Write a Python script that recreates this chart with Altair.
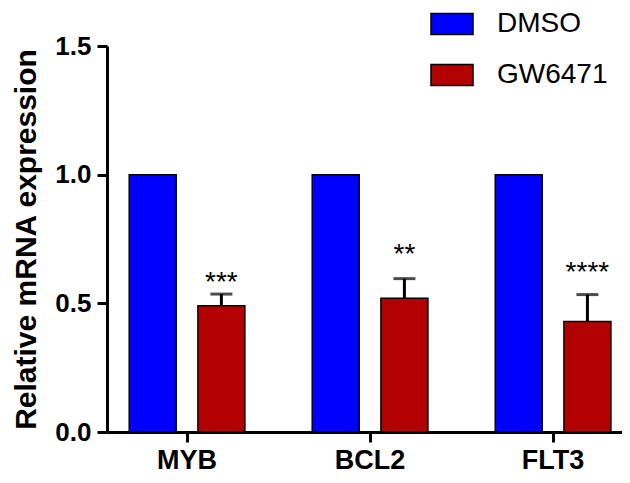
import altair as alt
import pandas as pd

genes = ["MYB", "BCL2", "FLT3"]
treatments = ["DMSO", "GW6471"]
dmso_values = [1.0, 1.0, 1.0]
gw_values = [0.491, 0.52, 0.429]
gw_errors = [0.045, 0.076, 0.105]
sig_labels = ["***", "**", "****"]
sig_y = [0.60, 0.707, 0.637]
colors = ["#0000FF", "#B30000"]

rows = []
for g, d in zip(genes, dmso_values):
    rows.append({"gene": g, "treatment": "DMSO", "value": d})
for g, v in zip(genes, gw_values):
    rows.append({"gene": g, "treatment": "GW6471", "value": v})
bars_df = pd.DataFrame(rows)

err_df = pd.DataFrame({
    "gene": genes,
    "treatment": ["GW6471"] * 3,
    "value": gw_values,
    "upper": [v + e for v, e in zip(gw_values, gw_errors)],
    "sig": sig_labels,
    "sig_y": sig_y,
})

common_axis = dict(
    labelFont="Liberation Sans",
    labelFontWeight="bold",
    labelColor="black",
    grid=False,
    domainColor="black",
    domainWidth=3,
    domainOpacity=1,
    tickColor="black",
    tickWidth=3,
    tickOpacity=1,
    tickSize=10,
)
x_axis = alt.Axis(title=None, labelAngle=0, labelFontSize=27, labelPadding=5, **common_axis)
y_axis = alt.Axis(
    title="Relative mRNA expression",
    titleFont="Liberation Sans",
    titleFontWeight="bold",
    titleFontSize=30,
    titleColor="black",
    titlePadding=13,
    values=[0, 0.5, 1.0, 1.5],
    format=".1f",
    labelFontSize=26,
    labelPadding=6,
    **common_axis,
)

x_scale = alt.Scale(paddingInner=0.368, paddingOuter=0.091, align=0.667)
y_scale = alt.Scale(domain=[0, 1.5], nice=False)


def xe():
    return alt.X("gene:N", sort=genes, scale=x_scale, axis=x_axis)


def xo():
    return alt.XOffset(
        "treatment:N", sort=treatments,
        scale=alt.Scale(paddingInner=0.316, paddingOuter=0),
    )


bars = alt.Chart(bars_df).mark_bar(stroke="black", strokeWidth=1.5).encode(
    x=xe(),
    xOffset=xo(),
    y=alt.Y("value:Q", scale=y_scale, axis=y_axis),
    color=alt.Color(
        "treatment:N",
        sort=treatments,
        scale=alt.Scale(domain=treatments, range=colors),
        legend=alt.Legend(
            title=None,
            orient="none",
            legendX=323,
            legendY=-44,
            symbolType="M-1,-0.5H1V0.5H-1Z",
            symbolSize=1764,
            symbolStrokeColor="black",
            symbolStrokeWidth=1.5,
            symbolOpacity=1,
            labelFont="Liberation Sans",
            labelFontSize=28,
            labelColor="black",
            labelOffset=23,
            rowPadding=15,
        ),
    ),
)

stems = alt.Chart(err_df).mark_rule(color="black", strokeWidth=3).encode(
    x=xe(),
    xOffset=xo(),
    y=alt.Y("value:Q", scale=y_scale, axis=y_axis),
    y2="upper:Q",
)

caps = alt.Chart(err_df).mark_tick(color="black", thickness=3, size=22).encode(
    x=xe(),
    xOffset=xo(),
    y=alt.Y("upper:Q", scale=y_scale, axis=y_axis),
)

stars = alt.Chart(err_df).mark_text(
    font="Liberation Sans", fontSize=28, color="black", baseline="middle", dy=5
).encode(
    x=xe(),
    xOffset=xo(),
    y=alt.Y("sig_y:Q", scale=y_scale, axis=y_axis),
    text="sig:N",
)

chart = (
    alt.layer(bars, stems, caps, stars)
    .properties(
        width=515,
        height=386,
        autosize=alt.AutoSizeParams(type="none"),
        padding={"left": 99, "top": 38, "right": 0, "bottom": 45},
    )
    .configure_view(stroke=None)
)

chart.save("out.html", embed_options={"renderer": "svg", "actions": False})
